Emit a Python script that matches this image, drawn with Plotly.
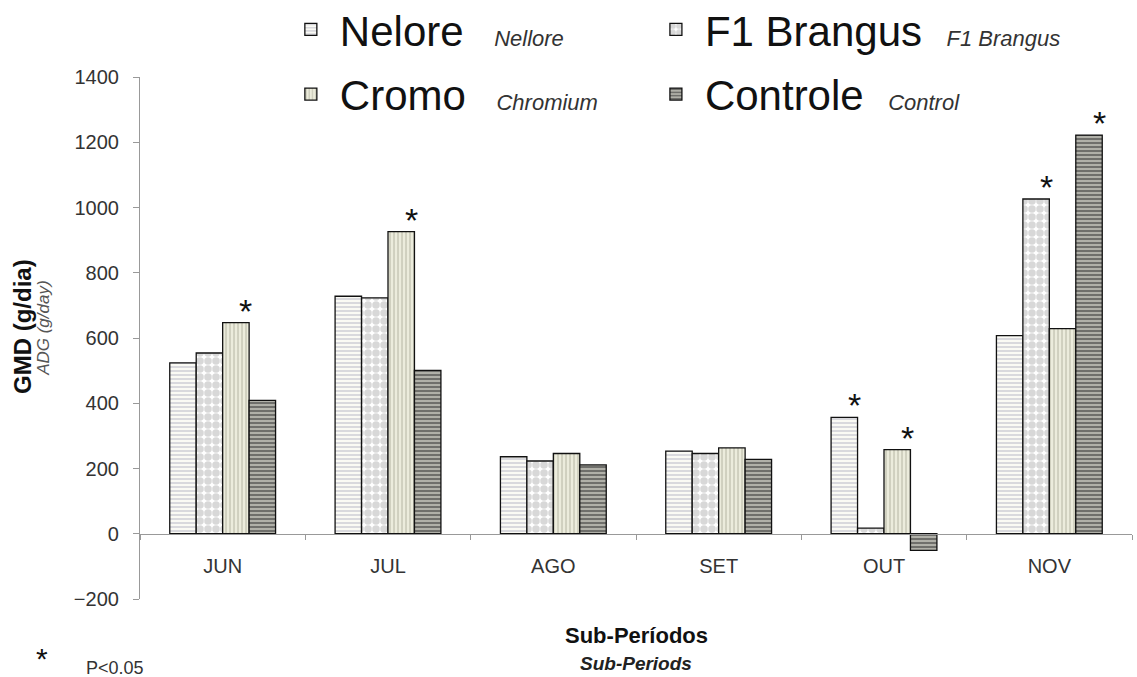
import plotly.graph_objects as go

# Average daily gain per sub-period (g/day)
periods = ["JUN", "JUL", "AGO", "SET", "OUT", "NOV"]
nelore = [524, 728, 236, 253, 357, 607]
f1_brangus = [554, 723, 223, 246, 17, 1026]
cromo = [647, 926, 246, 263, 258, 629]
controle = [409, 501, 211, 228, -51, 1222]

# Significance flags (P<0.05)
sig_nelore = [0, 0, 0, 0, 1, 0]
sig_f1 = [0, 0, 0, 0, 0, 1]
sig_cromo = [1, 1, 0, 0, 1, 0]
sig_controle = [0, 0, 0, 0, 0, 1]

FONT = "Liberation Sans, Arial, sans-serif"
NB = "\u00a0"

# name, english name, values, flags, fill pattern, legend id
series = [
    ("Nelore", "Nellore", nelore, sig_nelore,
     dict(shape="-", fgcolor="#a8a8bc", bgcolor="#fafaf4", size=4, solidity=0.4), "legend"),
    ("F1 Brangus", "F1 Brangus", f1_brangus, sig_f1,
     dict(shape=".", fgcolor="#b2b2b2", bgcolor="#ffffff", size=8, solidity=0.7), "legend2"),
    ("Cromo", "Chromium", cromo, sig_cromo,
     dict(shape="|", fgcolor="#aeae9c", bgcolor="#ececdc", size=4, solidity=0.45), "legend3"),
    ("Controle", "Control", controle, sig_controle,
     dict(shape="-", fgcolor="#2e2e2e", bgcolor="#b0b0a8", size=4, solidity=0.5), "legend4"),
]

gaps = {"Nelore": 5, "F1 Brangus": 4, "Cromo": 5, "Controle": 4}

fig = go.Figure()
for name, eng, vals, sig, pat, leg in series:
    label = (f"{name}<span style='font-size:22px;color:#333'>{NB * gaps[name]}"
             f"<i>{eng}</i></span>")
    fig.add_trace(go.Bar(
        x=periods, y=vals, name=label, legend=leg, showlegend=True,
        marker=dict(color=pat["bgcolor"], pattern=pat,
                    line=dict(color="#111111", width=1.3)),
    ))

bargap = 0.36
barw = (1 - bargap) / 4
annotations = []
for i, (name, eng, vals, sig, pat, leg) in enumerate(series):
    for j, (v, s) in enumerate(zip(vals, sig)):
        if s:
            annotations.append(dict(
                x=j + (i - 1.5) * barw, y=v, xref="x", yref="y",
                text="*", showarrow=False, yanchor="bottom",
                xshift=10, yshift=-9,
                font=dict(family=FONT, size=34, color="#111"),
            ))

annotations += [
    # y-axis title (Portuguese + English)
    dict(x=-0.118, y=0.523, xref="paper", yref="paper", showarrow=False,
         textangle=-90, xanchor="center", yanchor="middle",
         text="<b>GMD (g/dia)</b>", font=dict(family=FONT, size=24, color="#111")),
    dict(x=-0.098, y=0.519, xref="paper", yref="paper", showarrow=False,
         textangle=-90, xanchor="center", yanchor="middle",
         text="<i>ADG (g/day)</i>", font=dict(family=FONT, size=17, color="#555")),
    # x-axis title
    dict(x=0.5, y=-0.069, xref="paper", yref="paper", showarrow=False,
         yanchor="middle",
         text="<b>Sub-Períodos</b>", font=dict(family=FONT, size=22, color="#111")),
    dict(x=0.5, y=-0.123, xref="paper", yref="paper", showarrow=False,
         yanchor="middle",
         text="<b><i>Sub-Periods</i></b>", font=dict(family=FONT, size=19, color="#222")),
    # significance note
    dict(x=-0.099, y=-0.1495, xref="paper", yref="paper", showarrow=False,
         xanchor="center", yanchor="bottom",
         text="*", font=dict(family=FONT, size=30, color="#111")),
    dict(x=-0.056, y=-0.132, xref="paper", yref="paper", showarrow=False,
         xanchor="left", yanchor="middle",
         text="P<0.05", font=dict(family=FONT, size=18, color="#333")),
]

legend_common = dict(
    orientation="h", xanchor="left", yanchor="middle", itemwidth=48,
    font=dict(family=FONT, size=42, color="#111"),
    bgcolor="rgba(0,0,0,0)",
)
col1, col2 = 0.143, 0.511
row1, row2 = 1.091, 0.967

fig.update_layout(
    width=1137, height=677,
    margin=dict(l=140, r=5, t=77, b=78, autoexpand=False),
    paper_bgcolor="white", plot_bgcolor="white",
    barmode="group", bargap=bargap, bargroupgap=0,
    font=dict(family=FONT, color="#222"),
    showlegend=True,
    annotations=annotations,
    legend=dict(x=col1, y=row1, **legend_common),
    legend2=dict(x=col2, y=row1, **legend_common),
    legend3=dict(x=col1, y=row2, **legend_common),
    legend4=dict(x=col2, y=row2, **legend_common),
    xaxis=dict(
        type="category", anchor="free", position=0.125,
        showline=True, linecolor="#999", linewidth=1.2,
        ticks="outside", tickson="boundaries", ticklen=5, tickcolor="#999",
        ticklabelstandoff=14, showgrid=False,
        tickfont=dict(family=FONT, size=20, color="#333"),
    ),
    yaxis=dict(
        range=[-200, 1400], dtick=200, showgrid=False, zeroline=False,
        showline=True, linecolor="#999", linewidth=1.2,
        ticks="outside", ticklen=6, tickcolor="#999", ticklabelstandoff=10,
        tickfont=dict(family=FONT, size=20, color="#333"),
    ),
)

fig.write_html("out.html")
